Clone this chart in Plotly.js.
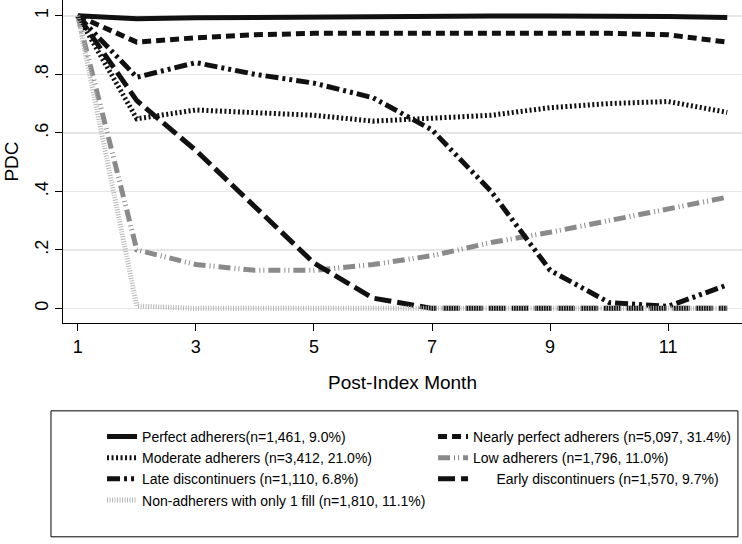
<!DOCTYPE html>
<html><head><meta charset="utf-8">
<script src="https://cdn.plot.ly/plotly-3.0.1.min.js"></script>
<style>html,body{margin:0;padding:0;background:#fff}#c{width:742px;height:544px}</style>
</head><body><div id="c"></div>
<script>
const months = [1,2,3,4,5,6,7,8,9,10,11,12];
const seriesNames = [
  "Perfect adherers(n=1,461, 9.0%)",
  "Nearly perfect adherers (n=5,097, 31.4%)",
  "Moderate adherers (n=3,412, 21.0%)",
  "Low adherers (n=1,796, 11.0%)",
  "Late discontinuers (n=1,110, 6.8%)",
  "\u00a0\u00a0\u00a0\u00a0\u00a0\u00a0Early discontinuers (n=1,570, 9.7%)",
  "Non-adherers with only 1 fill (n=1,810, 11.1%)"
];
const perfect = [1,0.99,0.993,0.995,0.997,0.998,0.999,0.999,0.999,0.999,0.998,0.994];
const nearlyPerfect = [1,0.91,0.925,0.935,0.94,0.94,0.94,0.94,0.94,0.94,0.935,0.91];
const moderate = [1,0.648,0.678,0.67,0.66,0.64,0.648,0.66,0.686,0.70,0.707,0.67];
const low = [1,0.20,0.15,0.13,0.13,0.15,0.18,0.225,0.26,0.30,0.34,0.38];
const lateDisc = [1,0.79,0.84,0.80,0.77,0.72,0.61,0.40,0.13,0.02,0.007,0.08];
const earlyDisc = [1,0.71,0.54,0.35,0.155,0.035,0,0,0,0,0,0];
const nonAdherers = [1,0.008,0,0,0,0,0,0,0,0,0,0];
const yTickVals = [0,0.2,0.4,0.6,0.8,1];
const yTickText = ["0",".2",".4",".6",".8","1"];
const xTickVals = [1,3,5,7,9,11];

const values = [perfect,nearlyPerfect,moderate,low,lateDisc,earlyDisc,nonAdherers];
const styles = [
  {color:"#111", width:5, dash:"solid"},
  {color:"#111", width:5, dash:"9px,5px"},
  {color:"#111", width:5, dash:"2px,2.5px"},
  {color:"#8a8a8a", width:5, dash:"12px,4px,1px,3px,1px,4px"},
  {color:"#111", width:5, dash:"13px,4px,3px,4px,3px,4px"},
  {color:"#111", width:5, dash:"17px,6px"},
  {color:"#b5b5b5", width:5, dash:"1px,1.5px"}
];
const traces = values.map((v,i)=>({
  x: months, y: v, type:"scatter", mode:"lines", name: seriesNames[i],
  line: Object.assign({shape:"linear"}, styles[i])
}));

const layout = {
  width:742, height:544,
  margin:{l:63, r:0, t:0, b:221, autoexpand:false},
  paper_bgcolor:"#fff", plot_bgcolor:"#fff",
  font:{family:"Liberation Sans, Arial, sans-serif", color:"#000"},
  showlegend:true,
  xaxis:{
    range:[0.75,12.25], tickvals:xTickVals, ticks:"outside", ticklen:7, tickcolor:"#000",
    showline:true, linecolor:"#000", linewidth:1, showgrid:false, zeroline:false, automargin:false,
    tickfont:{size:18}, title:{text:"Post-Index Month", font:{size:19}, standoff:20}
  },
  yaxis:{
    range:[-0.05,1.054], tickvals:yTickVals, ticktext:yTickText, tickangle:-90,
    ticks:"outside", ticklen:7, tickcolor:"#000", automargin:false,
    showline:true, linecolor:"#000", linewidth:1,
    showgrid:true, gridcolor:"#e6e6e6", gridwidth:1.5, zeroline:false,
    tickfont:{size:18}, title:{text:"PDC", font:{size:19}, standoff:8}
  },
  legend:{
    orientation:"h", x:0.0575, xanchor:"left", y:-0.303, yanchor:"top",
    entrywidth:286, font:{size:14}, bgcolor:"rgba(0,0,0,0)", traceorder:"normal"
  },
  shapes:[{type:"rect", xref:"paper", yref:"paper", x0:-0.0177, x1:0.994, y0:-0.272, y1:-0.662,
    line:{color:"#000", width:1}}]
};
Plotly.newPlot("c", traces, layout, {displayModeBar:false, staticPlot:true});
</script></body></html>
